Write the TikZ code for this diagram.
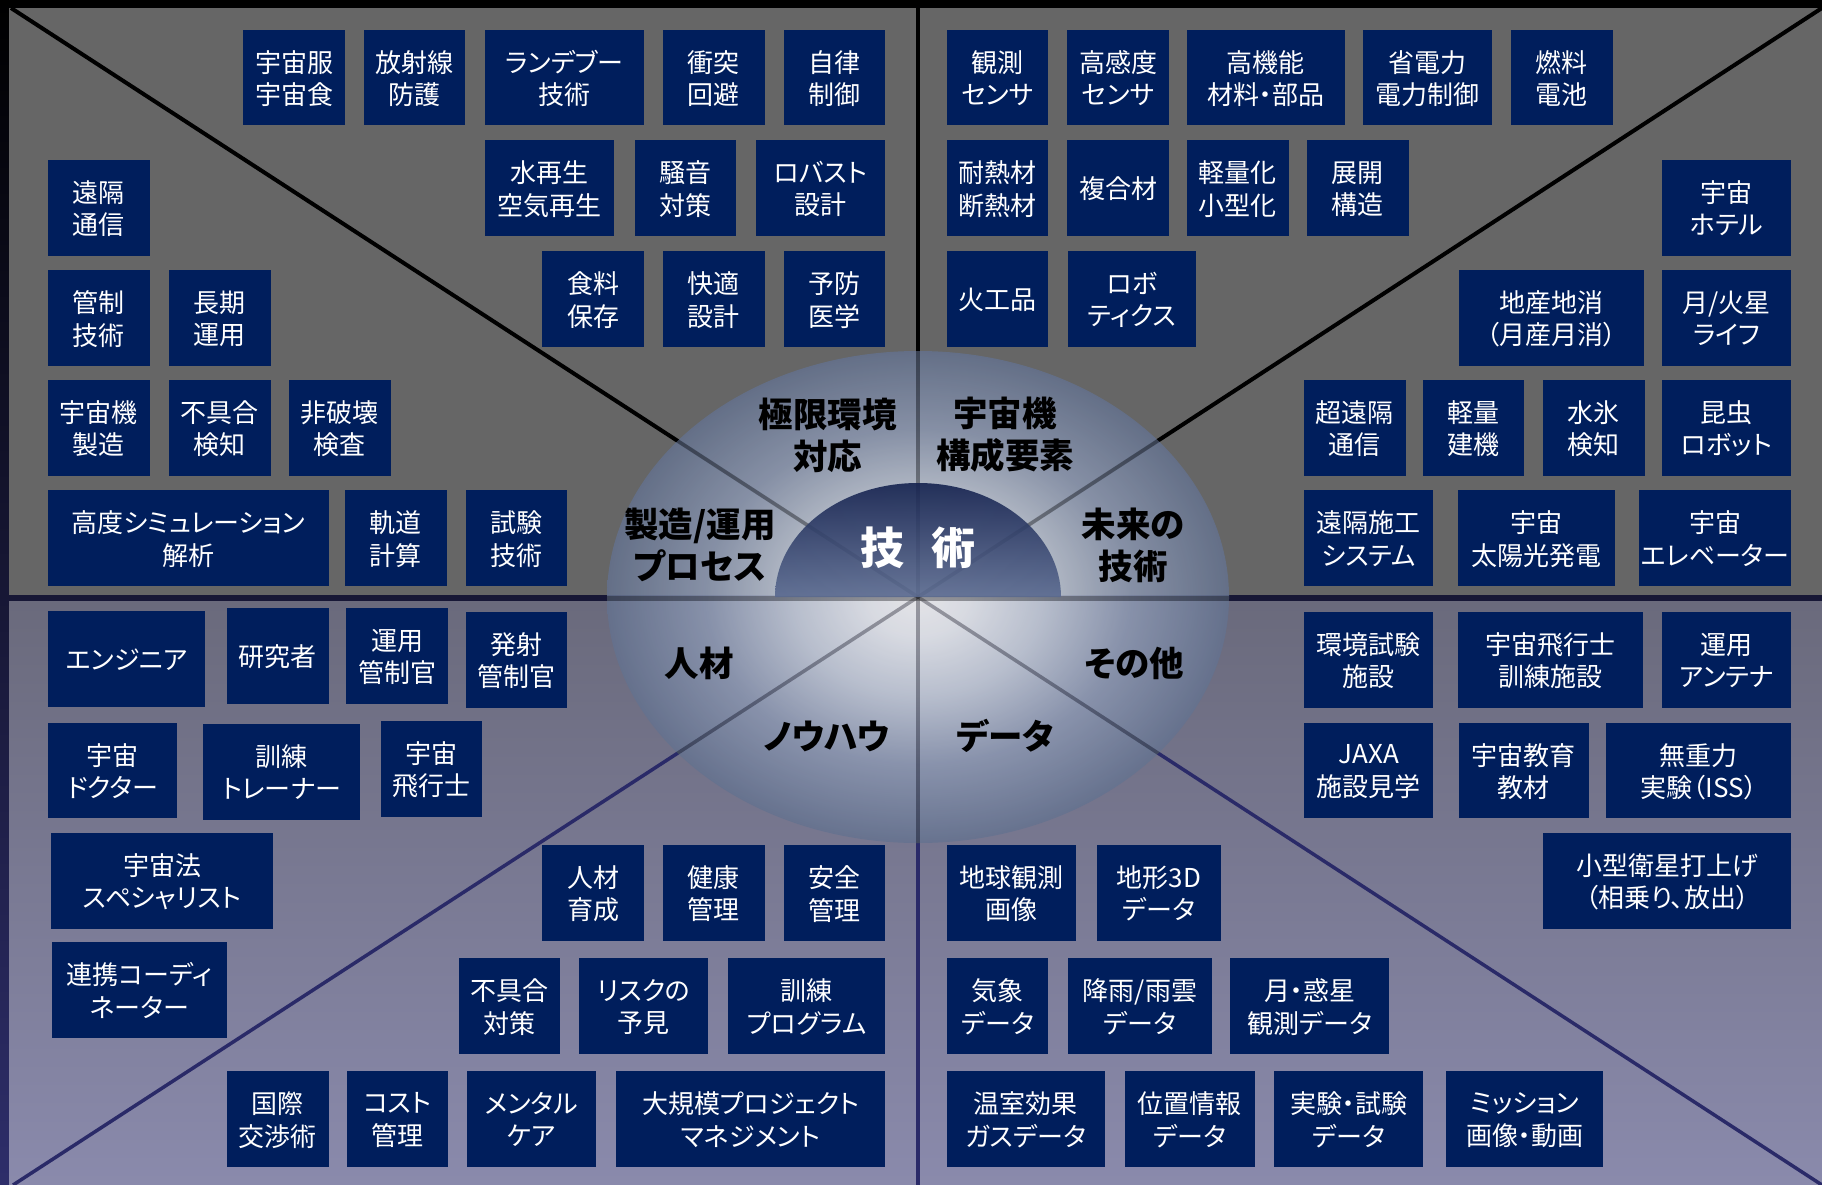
\documentclass[tikz,border=0pt]{standalone}
\usepackage{fontspec}
\setmainfont{Noto Sans CJK JP}[RawFeature=+palt]

\definecolor{topgray}{HTML}{666666}
\definecolor{botA}{HTML}{6A6A7C}
\definecolor{botB}{HTML}{8A8AAC}
\definecolor{frameB}{HTML}{2E2E6A}
\definecolor{boxnavy}{HTML}{001E5C}
\definecolor{botline}{HTML}{2A2A68}
\definecolor{glowA}{HTML}{F0F3F8}
\definecolor{glowB}{HTML}{C8D0DE}
\definecolor{glowC}{HTML}{8E9AB4}
\definecolor{glowedge}{HTML}{64728F}
\definecolor{discTop}{HTML}{15224F}
\definecolor{discBot}{HTML}{5A6A90}

\pgfdeclareradialshading{glowshade}{\pgfpoint{0bp}{0bp}}{%
  color(0bp)=(white); color(4bp)=(glowA); color(10bp)=(glowB);
  color(17bp)=(glowC); color(25bp)=(glowedge); color(50bp)=(glowedge)}

\begin{document}
\begin{tikzpicture}[
  x=1pt, y=-1pt,
  box/.style={
    draw=none,
    fill=boxnavy,
    text=white,
    minimum width=101.5pt,
    minimum height=95.7pt,
    inner sep=0pt,
    text depth=-1pt,
    align=center,
    font=\fontsize{26}{32.5}\selectfont
  },
  cat/.style={
    align=center,
    inner sep=0pt,
    font=\fontsize{34.5}{42}\selectfont\bfseries
  },
  upper/.style={line width=4pt, black},
  lower/.style={line width=3.5pt, botline},
  faint/.style={line width=3.5pt, black, opacity=0.3}
]
\useasboundingbox (0,0) rectangle (1822,1185);

% Frame and panels
\shade[top color=black, middle color=black!90!frameB, bottom color=frameB]
  (0,0) rectangle (1822,1185);
\fill[topgray] (9,8) rectangle (1822,595);
\shade[top color=botA, bottom color=botB] (9,601) rectangle (1822,1185);

% Dividing lines
\coordinate (c) at (918,597);
\coordinate (tl) at (11,8);
\coordinate (tm) at (918,8);
\coordinate (tr) at (1822,8);
\coordinate (bl) at (13,1185);
\coordinate (bm) at (918,1185);
\coordinate (br) at (1822,1185);
\coordinate (ml) at (9,598);
\coordinate (mr) at (1822,598);
\foreach \p in {tl,tm,tr} {
  \draw[upper] (c) -- (\p);
}
\foreach \p in {bl,bm,br} {
  \draw[lower] (c) -- (\p);
}

% Glow and centre
\shade[shading=glowshade, opacity=0.82] (c) ellipse [x radius=311pt, y radius=246pt];
\begin{scope}
  \clip (c) ellipse [x radius=311pt, y radius=246pt];
  \foreach \p in {tl,tm,tr,bl,bm,br} {
    \draw[faint] (c) -- (\p);
  }
  \draw[faint, line width=5pt] (ml) -- (mr);
\end{scope}
\shade[top color=discTop, bottom color=discBot, opacity=0.9]
  (1061,597) arc[start angle=0, end angle=180, x radius=143pt, y radius=114pt] -- cycle;
\node[text=white, inner sep=0pt, font=\fontsize{44}{44}\selectfont\bfseries] (tech) at (918,548) {技\hspace{0.6em}術};

% Categories
\node[cat] (extreme) at (827.5,435) {極限環境\\対応};
\node[cat] (parts) at (1005,435) {宇宙機\\構成要素};
\node[cat] (process) at (700,545) {製造/運用\\プロセス};
\node[cat] (future) at (1133,545) {未来の\\技術};
\node[cat] (people) at (699,663) {人材};
\node[cat] (other) at (1134,663) {その他};
\node[cat] (knowhow) at (827,736) {ノウハウ};
\node[cat] (data) at (1005,736) {データ};

% Top left
\node[box] (suit) at (294,77.6) {宇宙服\\宇宙食};
\node[box] (rad) at (414.5,77.6) {放射線\\防護};
\node[box, minimum width=158.5pt] (rdv) at (564.5,77.6) {ランデブー\\技術};
\node[box] (avoid) at (713.8,77.6) {衝突\\回避};
\node[box] (auto) at (834.6,77.6) {自律\\制御};
\node[box, minimum width=129pt] (water) at (549.8,187.9) {水再生\\空気再生};
\node[box] (noise) at (685.6,187.9) {騒音\\対策};
\node[box, minimum width=129.7pt] (robust) at (820.6,187.9) {ロバスト\\設計};
\node[box] (food) at (593,298.9) {食料\\保存};
\node[box] (comfort) at (713.8,298.9) {快適\\設計};
\node[box] (med) at (834.6,298.9) {予防\\医学};
\node[box] (comm) at (98.9,207.8) {遠隔\\通信};
\node[box] (ctrl) at (98.9,317.8) {管制\\技術};
\node[box] (longop) at (219.8,317.8) {長期\\運用};
\node[box] (mfg) at (98.9,427.8) {宇宙機\\製造};
\node[box] (fault) at (219.8,427.8) {不具合\\検知};
\node[box] (ndi) at (339.8,427.8) {非破壊\\検査};
\node[box, minimum width=280.5pt] (sim) at (188.4,537.9) {高度シミュレーション\\解析};
\node[box] (orbit) at (395.8,537.9) {軌道\\計算};
\node[box] (test) at (516.7,537.9) {試験\\技術};

% Top right
\node[box] (obs) at (997.6,77.6) {観測\\センサ};
\node[box] (hisens) at (1118.2,77.6) {高感度\\センサ};
\node[box, minimum width=157.6pt] (hifunc) at (1265.7,77.6) {高機能\\材料・部品};
\node[box, minimum width=129.3pt] (power) at (1427.5,77.6) {省電力\\電力制御};
\node[box] (fuel) at (1561.8,77.6) {燃料\\電池};
\node[box] (heat) at (997.6,187.9) {耐熱材\\断熱材};
\node[box] (comp) at (1118.2,187.9) {複合材};
\node[box] (light) at (1237.9,187.9) {軽量化\\小型化};
\node[box] (deploy) at (1357.8,187.9) {展開\\構造};
\node[box] (pyro) at (997.6,298.9) {火工品};
\node[box, minimum width=128.8pt] (robot) at (1132,298.9) {ロボ\\ティクス};
\node[box, minimum width=129.4pt] (hotel) at (1726.7,207.8) {宇宙\\ホテル};
\node[box, minimum width=185.2pt] (local) at (1551.8,317.8) {地産地消\\（月産月消）};
\node[box, minimum width=129.4pt] (life) at (1726.7,317.8) {月/火星\\ライフ};
\node[box] (farcomm) at (1354.9,427.8) {超遠隔\\通信};
\node[box] (machine) at (1473.6,427.8) {軽量\\建機};
\node[box] (ice) at (1593.9,427.8) {水氷\\検知};
\node[box, minimum width=129.4pt] (insect) at (1726.7,427.8) {昆虫\\ロボット};
\node[box, minimum width=129.3pt] (remote) at (1368.7,537.9) {遠隔施工\\システム};
\node[box, minimum width=157pt] (solar) at (1536.5,537.9) {宇宙\\太陽光発電};
\node[box, minimum width=152.4pt] (elev) at (1715.2,537.9) {宇宙\\エレベーター};

% Bottom left
\node[box, minimum width=157.3pt] (eng) at (126.8,658.7) {エンジニア};
\node[box] (res) at (277.8,655.7) {研究者};
\node[box] (opctl) at (397,655.7) {運用\\管制官};
\node[box] (lnchctl) at (516.7,659.8) {発射\\管制官};
\node[box, minimum width=129.1pt] (doctor) at (112.7,770.6) {宇宙\\ドクター};
\node[box, minimum width=157.3pt] (trainer) at (281.7,771.8) {訓練\\トレーナー};
\node[box] (astro) at (431.6,768.8) {宇宙\\飛行士};
\node[box, minimum width=222.4pt] (law) at (162.2,880.7) {宇宙法\\スペシャリスト};
\node[box, minimum width=174.3pt] (coord) at (139.4,989.9) {連携コーディ\\ネーター};
\node[box] (edu) at (593,892.8) {人材\\育成};
\node[box] (health) at (713.8,892.8) {健康\\管理};
\node[box] (safety) at (834.6,892.8) {安全\\管理};
\node[box] (faultfix) at (509.6,1005.9) {不具合\\対策};
\node[box, minimum width=129.1pt] (risk) at (643.7,1005.9) {リスクの\\予見};
\node[box, minimum width=157.2pt] (program) at (806.8,1005.9) {訓練\\プログラム};
\node[box] (nego) at (277.8,1119) {国際\\交渉術};
\node[box] (cost) at (397.6,1119) {コスト\\管理};
\node[box, minimum width=129.1pt] (mental) at (531.6,1119) {メンタル\\ケア};
\node[box, minimum width=269.3pt] (pm) at (750.8,1119) {大規模プロジェクト\\マネジメント};

% Bottom right
\node[box, minimum width=129.3pt] (envtest) at (1368.7,659.8) {環境試験\\施設};
\node[box, minimum width=185.2pt] (trainfac) at (1550.6,659.8) {宇宙飛行士\\訓練施設};
\node[box, minimum width=129.4pt] (antenna) at (1726.7,659.8) {運用\\アンテナ};
\node[box, minimum width=129.3pt] (tour) at (1368.7,770.6) {JAXA\\施設見学};
\node[box, minimum width=129.3pt] (teach) at (1523.9,770.6) {宇宙教育\\教材};
\node[box, minimum width=185.2pt] (zerog) at (1698.8,770.6) {無重力\\実験（ISS）};
\node[box, minimum width=248.1pt] (smallsat) at (1667.4,880.7) {小型衛星打上げ\\（相乗り、放出）};
\node[box, minimum width=129.4pt] (eoimg) at (1011.7,892.8) {地球観測\\画像};
\node[box, minimum width=123.5pt] (terrain) at (1158.8,892.8) {地形3D\\データ};
\node[box] (weather) at (997.6,1005.9) {気象\\データ};
\node[box, minimum width=143.4pt] (rain) at (1139.9,1005.9) {降雨/雨雲\\データ};
\node[box, minimum width=159.3pt] (planet) at (1309.6,1005.9) {月・惑星\\観測データ};
\node[box, minimum width=157.6pt] (ghg) at (1025.8,1119) {温室効果\\ガスデータ};
\node[box, minimum width=129.4pt] (pos) at (1189.9,1119) {位置情報\\データ};
\node[box, minimum width=149.3pt] (expdata) at (1348.7,1119) {実験・試験\\データ};
\node[box, minimum width=157pt] (mission) at (1524.7,1119) {ミッション\\画像・動画};

\end{tikzpicture}
\end{document}
